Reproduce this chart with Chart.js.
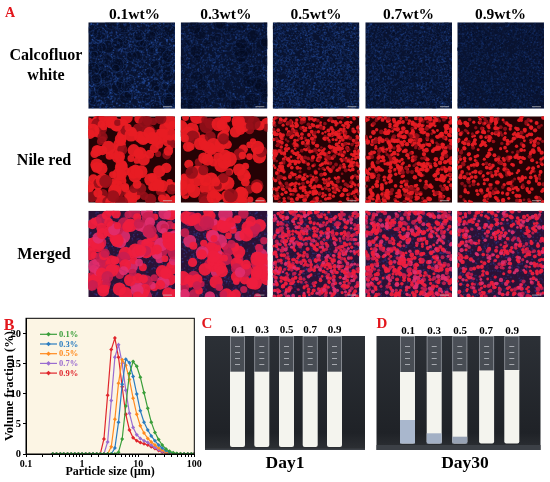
<!DOCTYPE html>
<html>
<head>
<meta charset="utf-8">
<script src="https://cdn.jsdelivr.net/npm/chart.js@4.4.1/dist/chart.umd.min.js"></script>
<style>
  html, body { margin: 0; padding: 0; background: #fff; }
  #fig { position: relative; width: 550px; height: 482px; overflow: hidden; background: #fff; }
  #bg { position: absolute; left: 0; top: 0; }
  #chartBox { position: absolute; left: 0; top: 310px; width: 205px; height: 172px; }
  .t { position: absolute; font-family: "Liberation Serif", "Times New Roman", serif; font-weight: bold;
       white-space: nowrap; line-height: 1; transform: translate(-50%, -50%); color: #000; }
  .red { color: #e3161c; }
</style>
</head>
<body>
<div id="fig">
  <canvas id="bg" width="550" height="482"></canvas>

  <div class="t red" style="left:10px;top:13px;font-size:14px">A</div>
  <div class="t" style="left:134.5px;top:14px;font-size:15.5px">0.1wt%</div>
  <div class="t" style="left:225.8px;top:14px;font-size:15.5px">0.3wt%</div>
  <div class="t" style="left:316px;top:14px;font-size:15.5px">0.5wt%</div>
  <div class="t" style="left:408.5px;top:14px;font-size:15.5px">0.7wt%</div>
  <div class="t" style="left:500.5px;top:14px;font-size:15.5px">0.9wt%</div>
  <div class="t" style="left:46px;top:55px;font-size:16px">Calcofluor</div>
  <div class="t" style="left:46px;top:75px;font-size:16px">white</div>
  <div class="t" style="left:44px;top:160px;font-size:16px">Nile red</div>
  <div class="t" style="left:44px;top:253.5px;font-size:16px">Merged</div>

  <div class="t red" style="left:9px;top:325px;font-size:16px">B</div>
  <div class="t red" style="left:207px;top:323px;font-size:15px">C</div>
  <div class="t red" style="left:382px;top:323px;font-size:15px">D</div>

  <div class="t" style="left:238px;top:329px;font-size:11px">0.1</div>
  <div class="t" style="left:262px;top:329px;font-size:11px">0.3</div>
  <div class="t" style="left:286.5px;top:329px;font-size:11px">0.5</div>
  <div class="t" style="left:310px;top:329px;font-size:11px">0.7</div>
  <div class="t" style="left:334.5px;top:329px;font-size:11px">0.9</div>
  <div class="t" style="left:408px;top:330px;font-size:11px">0.1</div>
  <div class="t" style="left:434px;top:330px;font-size:11px">0.3</div>
  <div class="t" style="left:460px;top:330px;font-size:11px">0.5</div>
  <div class="t" style="left:486px;top:330px;font-size:11px">0.7</div>
  <div class="t" style="left:512px;top:330px;font-size:11px">0.9</div>
  <div class="t" style="left:285px;top:463px;font-size:17.5px">Day1</div>
  <div class="t" style="left:465px;top:463px;font-size:17.5px">Day30</div>

  <div id="chartBox"><canvas id="psd"></canvas></div>
</div>

<script>
// particle size bins (µm) and volume fraction (%) per surfactant level
const sizes = [0.30, 0.35, 0.41, 0.47, 0.55, 0.64, 0.74, 0.86, 1.00, 1.16,
               1.35, 1.57, 1.82, 2.11, 2.45, 2.85, 3.31, 3.84, 4.46, 5.18,
               6.01, 6.98, 8.11, 9.42, 10.9, 12.7, 14.8, 17.1, 19.9, 23.1,
               26.8, 31.2, 36.2, 42.0, 48.8, 56.7, 65.8, 76.4, 88.8, 100];

const vf01 = [0, 0, 0, 0, 0, 0, 0, 0, 0, 0,
              0, 0, 0, 0, 0, 0, 0, 0, 0.3, 2.5,
              8.0, 13.4, 15.4, 14.6, 12.8, 10.2, 7.6, 5.3, 3.6, 2.4,
              1.5, 0.85, 0.45, 0.2, 0.08, 0.03, 0, 0, 0, 0];
const vf03 = [0, 0, 0, 0, 0, 0, 0, 0, 0, 0,
              0, 0, 0, 0, 0, 0, 0, 1.0, 5.3, 11.6,
              15.8, 15.2, 12.9, 10.0, 7.2, 5.3, 4.0, 3.0, 2.2, 1.5,
              1.0, 0.6, 0.3, 0.12, 0.04, 0, 0, 0, 0, 0];
const vf05 = [0, 0, 0, 0, 0, 0, 0, 0, 0, 0,
              0, 0, 0, 0, 0, 0, 1.2, 5.8, 11.8, 15.7,
              14.8, 12.4, 9.3, 6.6, 4.7, 3.5, 2.6, 2.0, 1.5, 1.0,
              0.65, 0.35, 0.15, 0.05, 0, 0, 0, 0, 0, 0];
const vf07 = [0, 0, 0, 0, 0, 0, 0, 0, 0, 0,
              0, 0, 0, 0, 0, 2.0, 8.9, 16.1, 18.2, 15.1,
              10.6, 6.8, 4.4, 3.2, 2.6, 2.2, 1.9, 1.5, 1.1, 0.75,
              0.45, 0.25, 0.1, 0.03, 0, 0, 0, 0, 0, 0];
const vf09 = [0, 0, 0, 0, 0, 0, 0, 0, 0, 0,
              0, 0, 0, 0, 2.5, 9.8, 17.4, 19.3, 16.1, 11.2,
              6.6, 4.0, 2.7, 2.2, 1.9, 1.7, 1.5, 1.2, 0.9, 0.6,
              0.35, 0.18, 0.07, 0, 0, 0, 0, 0, 0, 0];

const seriesNames = ['0.1%', '0.3%', '0.5%', '0.7%', '0.9%'];
const seriesColors = ['#3a9e3a', '#2a7cc0', '#ff8a1e', '#9a6cd0', '#e0262c'];
const xTickLabels = [0.1, 1, 10, 100];
const yTickStep = 5;

// ---------- panel B ----------
const plotDeco = {
  id: 'plotDeco',
  beforeDraw(chart) {
    const { ctx, chartArea: a } = chart;
    ctx.save();
    ctx.fillStyle = '#fcf5e4';
    ctx.fillRect(a.left, a.top, a.right - a.left, a.bottom - a.top);
    ctx.restore();
  },
  afterDraw(chart) {
    const { ctx, chartArea: a } = chart;
    ctx.save();
    ctx.strokeStyle = '#000';
    ctx.lineWidth = 1;
    ctx.strokeRect(a.left, a.top, a.right - a.left, a.bottom - a.top);
    // legend inside the plot
    ctx.font = 'bold 8.5px "Liberation Serif", serif';
    ctx.textBaseline = 'middle';
    chart.data.datasets.forEach((ds, i) => {
      const y = a.top + 16 + 9.7 * i;
      const x0 = a.left + 14, x1 = a.left + 31, xm = (x0 + x1) / 2;
      ctx.strokeStyle = ds.borderColor;
      ctx.lineWidth = 1.2;
      ctx.beginPath(); ctx.moveTo(x0, y); ctx.lineTo(x1, y); ctx.stroke();
      ctx.fillStyle = ds.borderColor;
      ctx.beginPath();
      ctx.moveTo(xm, y - 2.3); ctx.lineTo(xm + 2.3, y); ctx.lineTo(xm, y + 2.3); ctx.lineTo(xm - 2.3, y);
      ctx.closePath(); ctx.fill();
      ctx.fillText(ds.label, a.left + 33, y + 0.5);
    });
    ctx.restore();
  }
};

const seriesValues = [vf01, vf03, vf05, vf07, vf09];
const serif = '"Liberation Serif", "Times New Roman", serif';

new Chart(document.getElementById('psd'), {
  type: 'line',
  data: {
    datasets: seriesValues.map((vals, i) => ({
      label: seriesNames[i],
      data: sizes.map((s, j) => ({ x: s, y: vals[j] })),
      borderColor: seriesColors[i],
      backgroundColor: seriesColors[i],
      borderWidth: 1.2,
      pointStyle: 'rectRot',
      pointRadius: 2,
      pointBorderWidth: 0,
      tension: 0
    }))
  },
  options: {
    responsive: true,
    maintainAspectRatio: false,
    animation: false,
    layout: { padding: { left: 0, right: 10.7, top: 8.3, bottom: 0 } },
    plugins: { legend: { display: false }, tooltip: { enabled: false } },
    scales: {
      x: {
        type: 'logarithmic',
        min: 0.1,
        max: 100,
        afterFit: s => { s.height = 28; },
        border: { color: '#000', width: 1 },
        grid: { drawOnChartArea: false, color: '#000', tickLength: 3 },
        ticks: {
          color: '#000',
          font: { family: serif, weight: 'bold', size: 10 },
          padding: 1,
          autoSkip: false,
          maxRotation: 0,
          callback: v => xTickLabels.some(t => Math.abs(t - v) < 1e-9) ? String(v) : ''
        },
        title: {
          display: true,
          text: 'Particle size (μm)',
          color: '#000',
          font: { family: serif, weight: 'bold', size: 12 },
          padding: { top: 0, bottom: 3 }
        }
      },
      y: {
        min: 0,
        max: 22.6,
        afterFit: s => { s.width = 26; },
        border: { color: '#000', width: 1 },
        grid: { drawOnChartArea: false, color: '#000', tickLength: 3 },
        ticks: {
          stepSize: yTickStep,
          includeBounds: false,
          color: '#000',
          font: { family: serif, weight: 'bold', size: 10.5 },
          padding: 2
        },
        title: {
          display: true,
          text: 'Volume fraction (%)',
          color: '#000',
          font: { family: serif, weight: 'bold', size: 12.5 },
          padding: { top: 2, bottom: 0 }
        }
      }
    }
  },
  plugins: [plotDeco]
});

// ---------- microscopy and photos (background canvas) ----------
const bg = document.getElementById('bg');
const dpr = window.devicePixelRatio || 1;
bg.width = 550 * dpr; bg.height = 482 * dpr;
bg.style.width = '550px'; bg.style.height = '482px';
const g = bg.getContext('2d');
g.scale(dpr, dpr);

function lcg(seed) {
  return function () { seed = (seed * 1664525 + 1013904223) >>> 0; return seed / 4294967296; };
}

const imgCols = [88.3, 180.7, 272.7, 365.3, 457.3];
const imgRows = [22.3, 116.3, 210.7];
const imgW = 86.7, imgH = 86.4;
const cellR = [[3, 7], [3, 7.5], [1.3, 2.1], [1.4, 2.4], [1.3, 2.2]];
const cellN = [165, 125, 680, 560, 420];
const blueLevel = [0.45, 0.32, 0.38, 0.3, 0.22];

function tile(row, col) {
  const x = imgCols[col], y = imgRows[row];
  const r = lcg(17 + col * 31 + row * 7);
  g.save();
  g.beginPath(); g.rect(x, y, imgW, imgH); g.clip();
  if (row === 0) {
    g.fillStyle = '#091330'; g.fillRect(x, y, imgW, imgH);
    const n = 2600;
    for (let i = 0; i < n; i++) {
      g.fillStyle = 'rgba(50,100,200,' + (blueLevel[col] * r()).toFixed(2) + ')';
      g.fillRect(x + r() * imgW, y + r() * imgH, 1.4, 1.4);
    }
    const [r0, r1] = cellR[col];
    for (let i = 0; i < cellN[col] * 0.4; i++) {
      const cx = x + r() * imgW, cy = y + r() * imgH, rad = r0 + r() * (r1 - r0);
      g.beginPath(); g.arc(cx, cy, rad, 0, Math.PI * 2);
      g.fillStyle = 'rgba(4,10,30,0.35)'; g.fill();
      g.strokeStyle = 'rgba(60,110,210,' + (blueLevel[col] * 0.6).toFixed(2) + ')';
      g.lineWidth = 0.7; g.stroke();
    }
  } else {
    g.fillStyle = row === 1 ? '#250205' : '#2a1236';
    g.fillRect(x, y, imgW, imgH);
    if (row === 2) {
      for (let i = 0; i < 1100; i++) {
        g.fillStyle = 'rgba(60,80,190,' + (0.4 * r()).toFixed(2) + ')';
        g.fillRect(x + r() * imgW, y + r() * imgH, 1.5, 1.5);
      }
    }
    const [r0, r1] = cellR[col];
    for (let i = 0; i < cellN[col]; i++) {
      const cx = x + r() * imgW, cy = y + r() * imgH, rad = r0 + r() * (r1 - r0);
      const dim = r();
      let c;
      if (row === 1) c = dim < 0.25 ? 'rgba(150,15,25,0.9)' : 'rgba(232,28,36,0.95)';
      else c = dim < 0.25 ? 'rgba(200,30,80,0.9)' : (dim < 0.45 ? 'rgba(225,45,110,0.9)' : 'rgba(238,30,62,0.95)');
      g.beginPath(); g.arc(cx, cy, rad, 0, Math.PI * 2);
      g.fillStyle = c; g.fill();
    }
  }
  g.fillStyle = 'rgba(200,200,200,0.7)';
  g.fillRect(x + imgW - 12, y + imgH - 2.5, 9, 1);
  g.restore();
}
for (let row = 0; row < 3; row++) for (let col = 0; col < 5; col++) tile(row, col);

function photo(x0, x1, tubes, white, bottom, layers) {
  const y0 = 336, y1 = 450;
  const grd = g.createLinearGradient(0, y0, 0, y1);
  grd.addColorStop(0, '#2c3036'); grd.addColorStop(0.85, '#1f2227'); grd.addColorStop(1, '#2d3034');
  g.fillStyle = grd; g.fillRect(x0, y0, x1 - x0, y1 - y0);
  g.fillStyle = '#3c4046'; g.fillRect(x0, bottom + 1.5, x1 - x0, y1 - bottom - 1.5);
  tubes.forEach((cx, i) => {
    const l = cx - 7.5, w = 15;
    // glass neck
    g.fillStyle = 'rgba(150,156,166,0.3)'; g.fillRect(l, y0 + 0.5, w, white[i] - y0);
    g.strokeStyle = 'rgba(210,214,220,0.55)'; g.lineWidth = 0.8;
    g.strokeRect(l + 0.4, y0 + 0.5, w - 0.8, white[i] - y0);
    g.fillStyle = 'rgba(230,232,236,0.6)';
    for (let k = 0; k < 4; k++) g.fillRect(cx - 2.5, y0 + 10 + k * 6, 5, 1);
    // emulsion
    g.fillStyle = '#f4f4ee';
    g.beginPath();
    g.moveTo(l, white[i]); g.lineTo(l + w, white[i]); g.lineTo(l + w, bottom - 2);
    g.quadraticCurveTo(l + w, bottom, l + w - 2, bottom); g.lineTo(l + 2, bottom);
    g.quadraticCurveTo(l, bottom, l, bottom - 2); g.closePath(); g.fill();
    if (layers && layers[i]) {
      g.fillStyle = layers[i][1];
      g.fillRect(l, layers[i][0], w, bottom - layers[i][0]);
    }
  });
}
photo(205, 365, [237.5, 261.8, 286.5, 310.2, 334.5], [371.7, 371.7, 371.7, 371.7, 371.7], 447, null);
photo(376.5, 540.5, [407.5, 434.2, 459.8, 486.6, 511.8], [372, 372, 371.5, 370.5, 370], 443.5,
      [[420, '#a9b7cd'], [433.3, '#a3b0c5'], [436.7, '#97a2b4'], null, null]);
</script>
</body>
</html>
